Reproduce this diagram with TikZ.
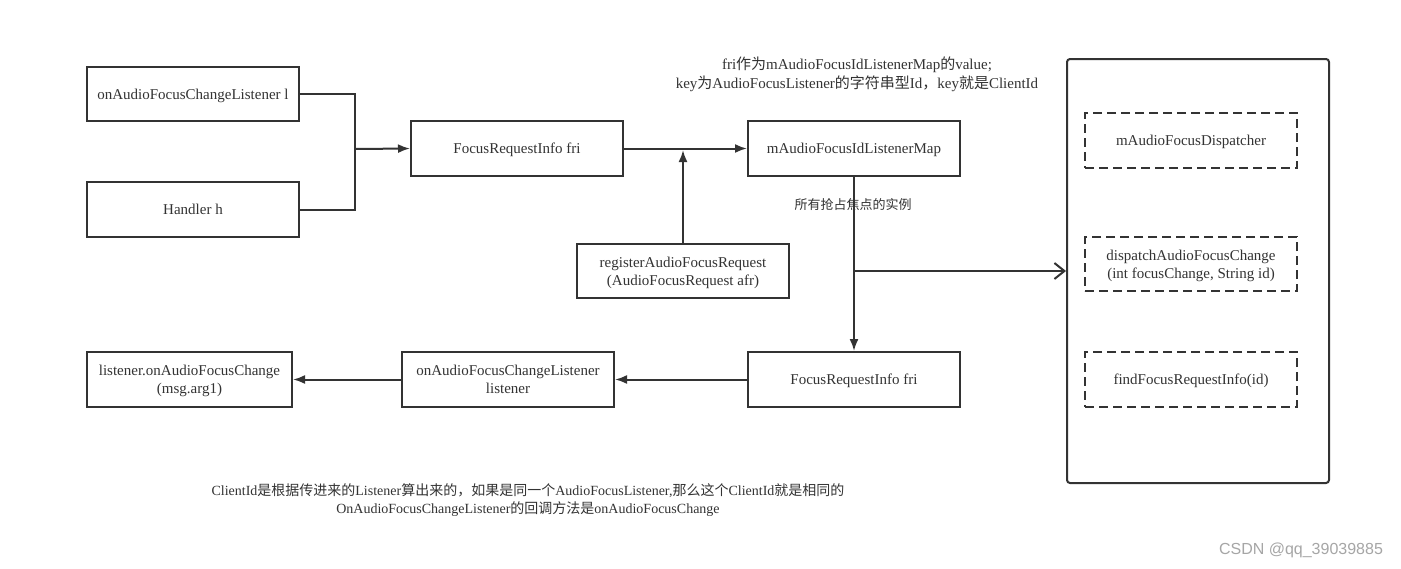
\documentclass[tikz,border=0pt]{standalone}
\usepackage{fontspec}
\setmainfont{Liberation Serif}
\newfontfamily\cjk{Noto Sans CJK SC}
\newfontfamily\wmfont{Liberation Sans}
\usetikzlibrary{arrows.meta}
\definecolor{ink}{HTML}{333333}
\tikzset{
  box/.style={draw=ink, line width=2pt, minimum width=212pt, minimum height=55pt, inner sep=2pt, align=center, font=\fontsize{15pt}{18pt}\selectfont, text=ink, text depth=0pt},
  dbox/.style={box, dash pattern=on 9pt off 5pt},
  conn/.style={draw=ink, line width=2pt},
  arr/.style={conn, -{Latex[length=12pt,width=9pt]}},
  barb/.style={conn, -{Straight Barb[length=10pt,width=16pt,line width=2pt]}},
  note/.style={align=center, text=ink, inner sep=0pt}
}
\begin{document}
\begin{tikzpicture}[x=1pt,y=-1pt]
\useasboundingbox[fill=white] (0,0) rectangle (1401,568);
% boxes
\node[box, minimum height=54pt] (A) at (193,94) {onAudioFocusChangeListener l};
\node[box] (B) at (193,209.5) {Handler h};
\node[box] (C) at (517,148.5) {FocusRequestInfo fri};
\node[box] (D) at (854,148.5) {mAudioFocusIdListenerMap};
\node[box, minimum height=54pt] (E) at (683,271) {registerAudioFocusRequest\\(AudioFocusRequest afr)};
\node[box] (F) at (854,379.5) {FocusRequestInfo fri};
\node[box] (G) at (508,379.5) {onAudioFocusChangeListener\\listener};
\node[box, minimum width=205pt] (H) at (189.5,379.5) {listener.onAudioFocusChange\\(msg.arg1)};
% container
\node[draw=ink, line width=2pt, rounded corners=3pt, minimum width=262pt, minimum height=424pt, inner sep=0pt] (K) at (1198,271) {};
\node[dbox] (K1) at (1191,140.5) {mAudioFocusDispatcher};
\node[dbox, minimum height=54pt] (K2) at (1191,264) {dispatchAudioFocusChange\\(int focusChange, String id)};
\node[dbox] (K3) at (1191,379.5) {findFocusRequestInfo(id)};
% junctions
\coordinate (J) at (355,149);
\coordinate (M) at (854,271);
\coordinate (Ct) at (683,150);
% connectors
\draw[conn] (A.east) -| (J);
\draw[conn] (B.east) -| (J);
\draw[arr] (J) -- (C.west);
\draw[arr] (C.east) -- (D.west);
\draw[arr] (E.north) -- (Ct);
\draw[arr] (D.south) -- (F.north);
\draw[barb] (M) -- (K.west);
\draw[arr] (F.west) -- (G.east);
\draw[arr] (G.west) -- (H.east);
% notes
\node[note, font=\fontsize{15pt}{19pt}\selectfont] (N1) at (857,74) {fri{\cjk 作为}mAudioFocusIdListenerMap{\cjk 的}value;\\key{\cjk 为}AudioFocusListener{\cjk 的字符串型}Id{\cjk ，}key{\cjk 就是}ClientId};
\node[note, font=\cjk\fontsize{13pt}{16pt}\selectfont] (N2) at (853,205) {所有抢占焦点的实例};
\node[note, font=\fontsize{14pt}{18pt}\selectfont] (N3) at (528,500) {ClientId{\cjk 是根据传进来的}Listener{\cjk 算出来的，如果是同一个}AudioFocusListener,{\cjk 那么这个}ClientId{\cjk 就是相同的}\\OnAudioFocusChangeListener{\cjk 的回调方法是}onAudioFocusChange};
\node[note, font=\wmfont\fontsize{16pt}{18pt}\selectfont, text=black!35] (W) at (1301,550) {CSDN @qq\_39039885};
\end{tikzpicture}
\end{document}
